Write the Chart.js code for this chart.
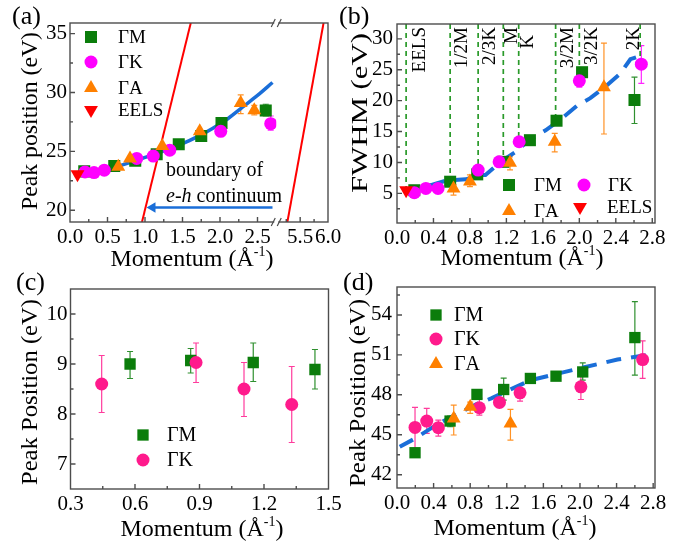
<!DOCTYPE html>
<html>
<head>
<meta charset="utf-8">
<title>Plasmon peaks vs momentum</title>
<script src="https://cdn.jsdelivr.net/npm/chart.js@4.4.1/dist/chart.umd.min.js"></script>
<style>
  html, body { margin: 0; padding: 0; background: #fff; }
  body { position: relative; width: 684px; height: 543px; overflow: hidden; }
  canvas { position: absolute; }
  .tag { position: absolute; font: 26px "Liberation Serif", serif; line-height: 26px; color: #000; }
</style>
</head>
<body>
<canvas id="ca" width="342" height="272" style="left:0;top:0"></canvas>
<canvas id="cb" width="342" height="272" style="left:342px;top:0"></canvas>
<canvas id="cc" width="342" height="271" style="left:0;top:272px"></canvas>
<canvas id="cd" width="342" height="271" style="left:342px;top:272px"></canvas>
<div class="tag" style="left:12px;top:3px">(a)</div>
<div class="tag" style="left:339px;top:3px">(b)</div>
<div class="tag" style="left:16px;top:269px">(c)</div>
<div class="tag" style="left:343px;top:269px">(d)</div>
<script>
const SERIF = '"Liberation Serif", "Times New Roman", serif';
const GREEN = '#0b7d0b', MAGENTA = '#ff00ff', PINK = '#ff1a8c', ORANGE = '#ff8000';
const RED = '#ff0000', BLUE = '#1a6ed8', GUIDE = '#2a9a2a';

// ---- (a) peak position, low momentum branch
const aMx = [0.19, 0.59, 0.87, 1.156, 1.45, 1.75, 2.02, 2.61];
const aMy = [23.3, 23.75, 24.2, 24.75, 25.6, 26.3, 27.4, 28.47];
const aMlo = [null, null, null, null, null, null, null, 28.0];
const aMhi = [null, null, null, null, null, null, null, 29.0];
const aKx = [0.2, 0.32, 0.457, 0.89, 1.11, 1.33, 2.01, 2.676];
const aKy = [23.25, 23.2, 23.4, 24.4, 24.6, 25.1, 26.7, 27.35];
const aKlo = [null, null, null, null, null, null, null, 26.8];
const aKhi = [null, null, null, null, null, null, null, 28.0];
const aAx = [0.644, 0.8, 1.23, 1.73, 2.276, 2.457];
const aAy = [23.7, 24.4, 25.45, 26.7, 29.1, 28.5];
const aAlo = [null, null, null, null, 28.2, 28.1];
const aAhi = [null, null, null, null, 29.8, 28.9];
const aEx = [0.1];
const aEy = [23.05];
const aFitX = [0.1, 0.3, 0.5, 0.7, 0.9, 1.1, 1.3, 1.5, 1.7, 1.9, 2.1, 2.3, 2.5, 2.7];
const aFitY = [23.2, 23.3, 23.5, 23.85, 24.25, 24.7, 25.15, 25.65, 26.25, 26.95, 27.75, 28.75, 29.75, 30.85];
const aEdge1X = [0.96, 1.61];
const aEdge2X = [5.27, 5.92];
const aEdgeY = [19, 35.9];
const aArrowX = [2.70, 1.10];
const aArrowY = [20.23, 20.23];
const aXTicks = [0, 0.5, 1.0, 1.5, 2.0, 2.5];
const aXMinor = [0.25, 0.75, 1.25, 1.75, 2.25];
const aX2Ticks = [5.5, 6.0];
const aX2Minor = [5.25, 5.75];
const aYTicks = [20, 25, 30, 35];
const aYMinor = [22.5, 27.5, 32.5];

// ---- (b) FWHM
const bMx = [0.19, 0.583, 0.88, 1.166, 1.458, 1.75, 2.03, 2.605];
const bMy = [5.5, 6.88, 8.07, 10.1, 13.6, 16.75, 24.6, 20.1];
const bMlo = [null, null, null, null, null, null, null, 16.3];
const bMhi = [null, null, null, null, null, null, null, 23.8];
const bKx = [0.19, 0.317, 0.45, 0.89, 1.12, 1.34, 2.0, 2.68];
const bKy = [5.1, 5.8, 5.8, 8.77, 10.1, 13.35, 23.2, 25.9];
const bKlo = [null, null, null, null, null, null, 22.2, 22.8];
const bKhi = [null, null, null, null, null, null, 24.0, 28.9];
const bAx = [0.62, 0.80, 1.24, 1.73, 2.27];
const bAy = [5.8, 6.9, 9.95, 13.35, 22.15];
const bAlo = [4.7, 6.1, 8.8, 11.7, 14.6];
const bAhi = [6.4, 8.0, 10.9, 14.7, 29.3];
const bEx = [0.1];
const bEy = [5.5];
const bFitX = [0.08, 0.245, 0.37, 0.535, 0.754, 0.918, 0.97, 1.137, 1.30, 1.447, 1.63, 1.79, 1.975, 2.12, 2.28, 2.45, 2.56, 2.70];
const bFitY = [5.26, 5.97, 6.34, 7.04, 7.27, 7.96, 7.96, 10.1, 11.7, 13.6, 15.2, 16.9, 19.2, 20.4, 22.2, 24.4, 26.7, 27.4];
const bMarkText = ['EELS', '1/2M', '2/3K', 'M', 'K', '3/2M', '3/2K', '2K'];
const bMarkX = [0.1, 0.583, 0.89, 1.166, 1.335, 1.74, 2.0, 2.667];
const bMarkEnd = [5.6, 6.9, 8.8, 10.0, 13.3, 16.7, 24.5, 27.2];
const bXTicks = [0, 0.4, 0.8, 1.2, 1.6, 2.0, 2.4, 2.8];
const bXMinor = [0.2, 0.6, 1.0, 1.4, 1.8, 2.2, 2.6];
const bYTicks = [5, 10, 15, 20, 25, 30];
const bYMinor = [2.5, 7.5, 12.5, 17.5, 22.5, 27.5];

// ---- (c) low energy peak
const cMx = [0.577, 0.859, 1.15, 1.437];
const cMy = [9.0, 9.07, 9.03, 8.89];
const cMlo = [8.71, 8.82, 8.65, 8.5];
const cMhi = [9.25, 9.31, 9.42, 9.29];
const cKx = [0.445, 0.884, 1.107, 1.329];
const cKy = [8.6, 9.03, 8.5, 8.19];
const cKlo = [8.03, 8.63, 7.95, 7.43];
const cKhi = [9.17, 9.42, 9.03, 8.95];
const cXTicks = [0.3, 0.6, 0.9, 1.2, 1.5];
const cXMinor = [0.45, 0.75, 1.05, 1.35];
const cYTicks = [7, 8, 9, 10];
const cYMinor = [7.5, 8.5, 9.5];

// ---- (d) high energy peak
const dMx = [0.197, 0.58, 0.874, 1.166, 1.458, 1.738, 2.03, 2.6];
const dMy = [43.65, 46.03, 48.03, 48.4, 49.23, 49.4, 49.72, 52.3];
const dMlo = [null, 45.6, null, 47.6, 48.95, 49.1, 49.1, 49.48];
const dMhi = [null, 46.4, null, 49.25, 49.55, 49.65, 50.4, 55.0];
const dKx = [0.197, 0.325, 0.452, 0.9, 1.12, 1.345, 2.01, 2.685];
const dKy = [45.55, 46.03, 45.53, 47.03, 47.43, 48.15, 48.6, 50.65];
const dKlo = [43.98, 45.1, 44.9, 46.48, null, 47.53, 47.65, 49.23];
const dKhi = [47.05, 46.98, 46.1, 47.73, null, 48.73, 49.6, 52.05];
const dAx = [0.62, 0.80, 1.24];
const dAy = [46.23, 47.1, 45.85];
const dAlo = [44.98, 46.6, 44.6];
const dAhi = [47.23, 47.45, 46.9];
const dFitX = [0.03, 0.2, 0.37, 0.58, 0.87, 1.03, 1.46, 1.99, 2.41, 2.8];
const dFitY = [44.1, 44.73, 45.48, 46.3, 47.3, 47.73, 49.1, 49.98, 50.65, 51.05];
const dXTicks = [0, 0.4, 0.8, 1.2, 1.6, 2.0, 2.4, 2.8];
const dXMinor = [0.2, 0.6, 1.0, 1.4, 1.8, 2.2, 2.6];
const dYTicks = [42, 45, 48, 51, 54];
const dYMinor = [43.5, 46.5, 49.5, 52.5, 55.5];

function pts(xs, ys) {
  return xs.map((x, i) => ({ x, y: ys[i] }));
}

function markerSet(label, xs, ys, style, color, r, more) {
  return Object.assign({
    label, data: pts(xs, ys), showLine: false,
    pointStyle: style, pointRadius: r, pointHoverRadius: r,
    backgroundColor: color, borderColor: color, pointBorderWidth: 0,
  }, more);
}

function lineSet(xs, ys, color, width, more) {
  return Object.assign({
    data: pts(xs, ys), showLine: true, pointRadius: 0, pointHoverRadius: 0,
    borderColor: color, backgroundColor: color, borderWidth: width, fill: false,
  }, more);
}

function fitH(h) {
  return (s) => { s.height = h; s.paddingLeft = 0; s.paddingRight = 0; s.paddingTop = 0; s.paddingBottom = 0; };
}
function fitW(w) {
  return (s) => { s.width = w; s.paddingLeft = 0; s.paddingRight = 0; s.paddingTop = 0; s.paddingBottom = 0; };
}

function axis(min, max, ticks, digits, pad, more) {
  return Object.assign({
    type: 'linear', min, max,
    grid: { display: false, drawTicks: false },
    border: { display: false },
    ticks: {
      font: { family: SERIF, size: 21 }, color: '#000', padding: pad,
      autoSkip: false, maxRotation: 0, callback: (v) => Number(v).toFixed(digits),
    },
    afterBuildTicks: (s) => { s.ticks = ticks.map((v) => ({ value: v })); },
  }, more);
}

function drawMarker(ctx, style, x, y, r, rot, color) {
  ctx.save();
  ctx.fillStyle = color;
  ctx.beginPath();
  if (style === 'rect') {
    const s = r * Math.SQRT1_2;
    ctx.rect(x - s, y - s, 2 * s, 2 * s);
  } else if (style === 'circle') {
    ctx.arc(x, y, r, 0, Math.PI * 2);
  } else {
    let a = rot * Math.PI / 180;
    ctx.moveTo(x + Math.sin(a) * r, y - Math.cos(a) * r);
    for (let k = 0; k < 2; k++) {
      a += 2 * Math.PI / 3;
      ctx.lineTo(x + Math.sin(a) * r, y - Math.cos(a) * r);
    }
    ctx.closePath();
  }
  ctx.fill();
  ctx.restore();
}

function drawXTitle(ctx, cx, y, size) {
  const a = 'Momentum (Å', sup = '-1', b = ')';
  ctx.save();
  ctx.fillStyle = '#000';
  ctx.textBaseline = 'alphabetic';
  ctx.font = size + 'px ' + SERIF;
  const wa = ctx.measureText(a).width, wb = ctx.measureText(b).width;
  ctx.font = Math.round(size * 0.6) + 'px ' + SERIF;
  const ws = ctx.measureText(sup).width;
  let x = cx - (wa + ws + wb) / 2;
  ctx.font = size + 'px ' + SERIF;
  ctx.fillText(a, x, y);
  x += wa;
  ctx.font = Math.round(size * 0.6) + 'px ' + SERIF;
  ctx.fillText(sup, x, y - size * 0.42);
  x += ws;
  ctx.font = size + 'px ' + SERIF;
  ctx.fillText(b, x, y);
  ctx.restore();
}

function drawYTitle(ctx, t) {
  ctx.save();
  ctx.fillStyle = '#000';
  ctx.font = t.size + 'px ' + SERIF;
  const w = ctx.measureText(t.text).width;
  ctx.translate(t.x, t.cy);
  ctx.rotate(-Math.PI / 2);
  ctx.scale(t.len / w, 1);
  ctx.textAlign = 'center';
  ctx.textBaseline = 'alphabetic';
  ctx.fillText(t.text, 0, 0);
  ctx.restore();
}

// layout of the decorations (pixels are canvas-local)
const decorCfg = {
  ca: {
    minor: { x: aXMinor, x2: aX2Minor, y: aYMinor },
    xTitle: { cx: 192, y: 266 },
    yTitle: { text: 'Peak position (eV)', x: 37, cy: 121, len: 178, size: 24 },
    legendFont: 19,
    legend: [
      { style: 'rect', color: GREEN, r: 8.5, rot: 0, x: 91, y: 37, tx: 118, text: 'ΓM' },
      { style: 'circle', color: MAGENTA, r: 6.5, rot: 0, x: 91, y: 62, tx: 118, text: 'ΓK' },
      { style: 'triangle', color: ORANGE, r: 8, rot: 0, x: 91, y: 88, tx: 118, text: 'ΓA' },
      { style: 'triangle', color: RED, r: 8, rot: 180, x: 91, y: 110, tx: 118, text: 'EELS' },
    ],
    broken: true,
  },
  cb: {
    minor: { x: bXMinor, y: bYMinor },
    xTitle: { cx: 180, y: 265 },
    yTitle: { text: 'FWHM (eV)', x: 25, cy: 113, len: 160, size: 24 },
    legendFont: 19,
    legend: [
      { style: 'rect', color: GREEN, r: 8.5, rot: 0, x: 167, y: 185, tx: 192, text: 'ΓM' },
      { style: 'circle', color: MAGENTA, r: 6.5, rot: 0, x: 242, y: 185, tx: 266, text: 'ΓK' },
      { style: 'triangle', color: ORANGE, r: 8, rot: 0, x: 167, y: 211, tx: 192, text: 'ΓA' },
      { style: 'triangle', color: RED, r: 8, rot: 180, x: 238, y: 207, tx: 265, text: 'EELS' },
    ],
    markShift: [19, 17, 17, 14, 14, 17, 18, -1],
    markTop: [27, 27, 27, 27, 35, 27, 27, 27],
  },
  cc: {
    minor: { x: cXMinor, y: cYMinor },
    xTitle: { cx: 202, y: 264 },
    yTitle: { text: 'Peak Position (eV)', x: 37, cy: 120, len: 186, size: 24 },
    legendFont: 20,
    legend: [
      { style: 'rect', color: GREEN, r: 8, rot: 0, x: 143, y: 163, tx: 167, text: 'ΓM' },
      { style: 'circle', color: PINK, r: 6.5, rot: 0, x: 143, y: 188, tx: 167, text: 'ΓK' },
    ],
  },
  cd: {
    minor: { x: dXMinor, y: dYMinor },
    xTitle: { cx: 173, y: 263 },
    yTitle: { text: 'Peak Position (eV)', x: 23, cy: 121, len: 188, size: 24 },
    legendFont: 20,
    legend: [
      { style: 'rect', color: GREEN, r: 8, rot: 0, x: 94, y: 43, tx: 112, text: 'ΓM' },
      { style: 'circle', color: PINK, r: 6.5, rot: 0, x: 94, y: 67, tx: 112, text: 'ΓK' },
      { style: 'triangle', color: ORANGE, r: 8, rot: 0, x: 94, y: 92, tx: 112, text: 'ΓA' },
    ],
  },
};

const decor = {
  id: 'decor',
  beforeDatasetsDraw(chart) {
    const ctx = chart.ctx;
    chart.data.datasets.forEach((ds) => {
      if (!ds.errLo) return;
      const xs = chart.scales[ds.xAxisID || 'x'];
      const ys = chart.scales.y;
      ctx.save();
      ctx.strokeStyle = ds.backgroundColor;
      ctx.globalAlpha = 0.85;
      ctx.lineWidth = 1.2;
      ctx.beginPath();
      ds.data.forEach((p, i) => {
        const lo = ds.errLo[i], hi = ds.errHi[i];
        if (lo == null || hi == null) return;
        const px = xs.getPixelForValue(p.x);
        const p1 = ys.getPixelForValue(lo), p2 = ys.getPixelForValue(hi);
        ctx.moveTo(px, p1); ctx.lineTo(px, p2);
        ctx.moveTo(px - 3, p1); ctx.lineTo(px + 3, p1);
        ctx.moveTo(px - 3, p2); ctx.lineTo(px + 3, p2);
      });
      ctx.stroke();
      ctx.restore();
    });
  },
  afterDraw(chart) {
    const cfg = decorCfg[chart.canvas.id];
    const ctx = chart.ctx;
    const area = chart.chartArea;
    ctx.save();

    // frame
    ctx.strokeStyle = '#4d4d4d';
    ctx.lineWidth = 1.4;
    ctx.strokeRect(area.left, area.top, area.right - area.left, area.bottom - area.top);

    // inward ticks
    ctx.beginPath();
    Object.keys(chart.scales).forEach((id) => {
      const s = chart.scales[id];
      const major = s.ticks.map((t) => t.value);
      const minor = cfg.minor[id] || [];
      const put = (v, len) => {
        const p = s.getPixelForValue(v);
        if (s.isHorizontal()) {
          if (p <= s.left + 0.5 || p >= s.right - 0.5) return;
          ctx.moveTo(p, area.bottom); ctx.lineTo(p, area.bottom - len);
        } else {
          if (p <= s.top + 0.5 || p >= s.bottom - 0.5) return;
          ctx.moveTo(area.left, p); ctx.lineTo(area.left + len, p);
        }
      };
      major.forEach((v) => put(v, 5));
      minor.forEach((v) => put(v, 3));
    });
    ctx.stroke();

    // axis break marks on panel (a)
    if (cfg.broken) {
      const bx = chart.scales.x.right;
      [area.top, area.bottom].forEach((y) => {
        ctx.fillStyle = '#fff';
        ctx.fillRect(bx - 2, y - 2, 4, 4);
        ctx.beginPath();
        ctx.strokeStyle = '#4d4d4d';
        ctx.lineWidth = 1.2;
        ctx.moveTo(bx - 5, y + 4); ctx.lineTo(bx - 1, y - 4);
        ctx.moveTo(bx + 1, y + 4); ctx.lineTo(bx + 5, y - 4);
        ctx.stroke();
      });
      // note about the e-h continuum
      const xs = chart.scales.x, ys = chart.scales.y;
      const tx = xs.getPixelForValue(1.28);
      ctx.fillStyle = '#000';
      ctx.textBaseline = 'alphabetic';
      ctx.font = '20px ' + SERIF;
      ctx.fillText('boundary of', tx, ys.getPixelForValue(22.9));
      const y2 = ys.getPixelForValue(20.68);
      ctx.font = 'italic 20px ' + SERIF;
      ctx.fillText('e-h', tx, y2);
      const w = ctx.measureText('e-h').width;
      ctx.font = '20px ' + SERIF;
      ctx.fillText(' continuum', tx + w, y2);
    }

    // rotated guide labels on panel (b)
    if (cfg.markShift) {
      const xs = chart.scales.x;
      ctx.fillStyle = '#000';
      ctx.font = '19px ' + SERIF;
      bMarkText.forEach((t, i) => {
        ctx.save();
        ctx.translate(xs.getPixelForValue(bMarkX[i]) + cfg.markShift[i], cfg.markTop[i]);
        ctx.rotate(-Math.PI / 2);
        ctx.textAlign = 'right';
        ctx.textBaseline = 'alphabetic';
        ctx.fillText(t, 0, 0);
        ctx.restore();
      });
    }

    // legend
    cfg.legend.forEach((it) => {
      drawMarker(ctx, it.style, it.x, it.y, it.r, it.rot, it.color);
      ctx.fillStyle = '#000';
      ctx.font = cfg.legendFont + 'px ' + SERIF;
      ctx.textAlign = 'left';
      ctx.textBaseline = 'middle';
      ctx.fillText(it.text, it.tx, it.y + 1);
    });

    drawXTitle(ctx, cfg.xTitle.cx, cfg.xTitle.y, 24);
    drawYTitle(ctx, cfg.yTitle);
    ctx.restore();
  },
};

function baseOptions(padTop, padRight, scales) {
  return {
    responsive: false,
    animation: false,
    layout: { padding: { top: padTop, right: padRight, left: 0, bottom: 0 } },
    plugins: { legend: { display: false }, tooltip: { enabled: false } },
    scales,
  };
}

// (a)
new Chart(document.getElementById('ca'), {
  type: 'scatter',
  data: {
    datasets: [
      lineSet(aFitX, aFitY, BLUE, 3.5, { cubicInterpolationMode: 'monotone', order: 9 }),
      lineSet(aEdge1X, aEdgeY, RED, 2, { order: 8 }),
      lineSet(aEdge2X, aEdgeY, RED, 2, { order: 8, xAxisID: 'x2' }),
      lineSet(aArrowX, aArrowY, BLUE, 2.5, {
        order: 8, pointRadius: [0, 6], pointStyle: 'triangle', pointRotation: [0, -90],
        pointBackgroundColor: BLUE, pointBorderWidth: 0,
      }),
      markerSet('ΓM', aMx, aMy, 'rect', GREEN, 8.5, { order: 5, errLo: aMlo, errHi: aMhi }),
      markerSet('ΓK', aKx, aKy, 'circle', MAGENTA, 6.5, { order: 4, errLo: aKlo, errHi: aKhi }),
      markerSet('ΓA', aAx, aAy, 'triangle', ORANGE, 8, { order: 3, errLo: aAlo, errHi: aAhi }),
      markerSet('EELS', aEx, aEy, 'triangle', RED, 8, { order: 2, pointRotation: 180 }),
    ],
  },
  options: baseOptions(23, 14, {
    x: axis(0, 2.75, aXTicks, 1, 3, { position: 'bottom', stack: 'bx', stackWeight: 206.25, afterFit: fitH(50) }),
    x2: axis(5.07, 6.0, aX2Ticks, 1, 3, { axis: 'x', position: 'bottom', stack: 'bx', stackWeight: 51.75, afterFit: fitH(50) }),
    y: axis(19, 35.9, aYTicks, 0, 3, { position: 'left', afterFit: fitW(70) }),
  }),
  plugins: [decor],
});

// (b)
new Chart(document.getElementById('cb'), {
  type: 'scatter',
  data: {
    datasets: [
      ...bMarkX.map((x, i) => lineSet([x, x], [32.4, bMarkEnd[i]], GUIDE, 1.7, { borderDash: [5, 4], order: 10 })),
      lineSet(bFitX, bFitY, BLUE, 4, { borderDash: [16, 10], order: 9 }),
      markerSet('ΓM', bMx, bMy, 'rect', GREEN, 8.5, { order: 5, errLo: bMlo, errHi: bMhi }),
      markerSet('ΓK', bKx, bKy, 'circle', MAGENTA, 6.5, { order: 4, errLo: bKlo, errHi: bKhi }),
      markerSet('ΓA', bAx, bAy, 'triangle', ORANGE, 8, { order: 3, errLo: bAlo, errHi: bAhi }),
      markerSet('EELS', bEx, bEy, 'triangle', RED, 8, { order: 2, pointRotation: 180 }),
    ],
  },
  options: baseOptions(24, 29, {
    x: axis(0, 2.83, bXTicks, 1, 3, { position: 'bottom', afterFit: fitH(49) }),
    y: axis(0.2, 32.4, bYTicks, 0, 4, { position: 'left', afterFit: fitW(55) }),
  }),
  plugins: [decor],
});

// (c)
new Chart(document.getElementById('cc'), {
  type: 'scatter',
  data: {
    datasets: [
      markerSet('ΓM', cMx, cMy, 'rect', GREEN, 8, { order: 2, errLo: cMlo, errHi: cMhi }),
      markerSet('ΓK', cKx, cKy, 'circle', PINK, 6.5, { order: 1, errLo: cKlo, errHi: cKhi }),
    ],
  },
  options: baseOptions(17, 13.5, {
    x: axis(0.3, 1.5, cXTicks, 1, 3, { position: 'bottom', afterFit: fitH(54) }),
    y: axis(6.5, 10.5, cYTicks, 0, 3, { position: 'left', afterFit: fitW(70.5) }),
  }),
  plugins: [decor],
});

// (d)
new Chart(document.getElementById('cd'), {
  type: 'scatter',
  data: {
    datasets: [
      lineSet(dFitX, dFitY, BLUE, 4, { borderDash: [15, 10], order: 9 }),
      markerSet('ΓK', dKx, dKy, 'circle', PINK, 6.5, { order: 4, errLo: dKlo, errHi: dKhi }),
      markerSet('ΓM', dMx, dMy, 'rect', GREEN, 8, { order: 3, errLo: dMlo, errHi: dMhi }),
      markerSet('ΓA', dAx, dAy, 'triangle', ORANGE, 8, { order: 2, errLo: dAlo, errHi: dAhi }),
    ],
  },
  options: baseOptions(15, 29, {
    x: axis(0, 2.82, dXTicks, 1, 3, { position: 'bottom', afterFit: fitH(55) }),
    y: axis(41, 56.1, dYTicks, 0, 5, { position: 'left', afterFit: fitW(55) }),
  }),
  plugins: [decor],
});
</script>
</body>
</html>
